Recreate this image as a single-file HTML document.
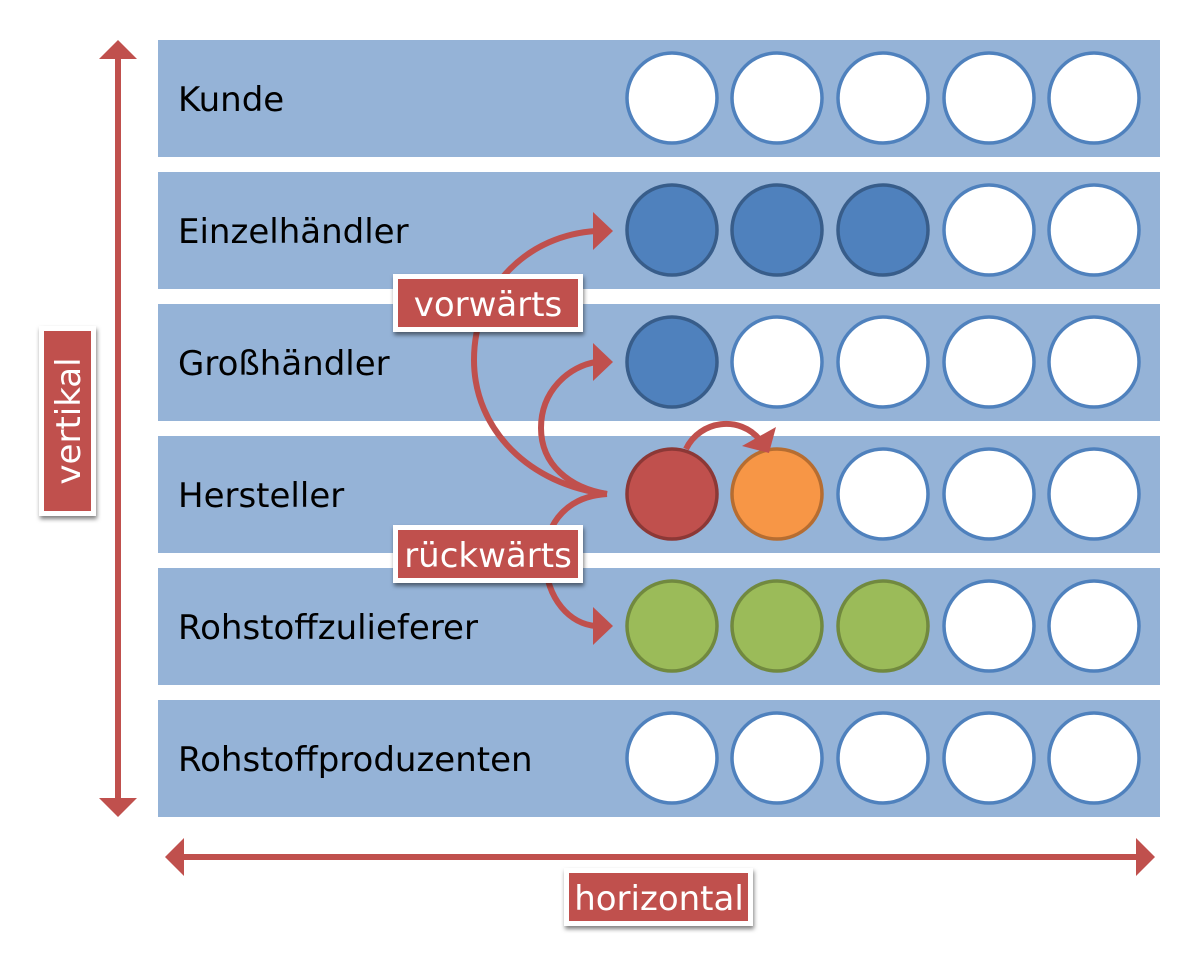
<!DOCTYPE html>
<html><head><meta charset="utf-8"><style>body{margin:0;background:#fff}svg{display:block}</style></head><body>
<svg width="1200" height="963" viewBox="0 0 1200 963" xmlns="http://www.w3.org/2000/svg" font-family="DejaVu Sans, Liberation Sans, sans-serif">
<defs><filter id="sh" x="-20%" y="-20%" width="140%" height="150%"><feDropShadow dx="1" dy="3" stdDeviation="2" flood-color="#000" flood-opacity="0.5"/></filter></defs>
<g fill="#95b3d7">
<rect x="158" y="40" width="1002" height="117"/>
<rect x="158" y="172" width="1002" height="117"/>
<rect x="158" y="304" width="1002" height="117"/>
<rect x="158" y="436" width="1002" height="117"/>
<rect x="158" y="568" width="1002" height="117"/>
<rect x="158" y="700" width="1002" height="117"/>
</g>
<g font-size="34" fill="#000">
<text x="178" y="111">Kunde</text>
<text x="178" y="243">Einzelhändler</text>
<text x="178" y="375">Großhändler</text>
<text x="178" y="507">Hersteller</text>
<text x="178" y="639">Rohstoffzulieferer</text>
<text x="178" y="771">Rohstoffproduzenten</text>
</g>
<g stroke-width="3.5">
<g fill="#fff" stroke="#4f81bd">
<circle cx="672" cy="98" r="45"/><circle cx="777" cy="98" r="45"/><circle cx="883" cy="98" r="45"/><circle cx="989" cy="98" r="45"/><circle cx="1094" cy="98" r="45"/>
<circle cx="989" cy="230" r="45"/><circle cx="1094" cy="230" r="45"/>
<circle cx="777" cy="362" r="45"/><circle cx="883" cy="362" r="45"/><circle cx="989" cy="362" r="45"/><circle cx="1094" cy="362" r="45"/>
<circle cx="883" cy="494" r="45"/><circle cx="989" cy="494" r="45"/><circle cx="1094" cy="494" r="45"/>
<circle cx="989" cy="626" r="45"/><circle cx="1094" cy="626" r="45"/>
<circle cx="672" cy="758" r="45"/><circle cx="777" cy="758" r="45"/><circle cx="883" cy="758" r="45"/><circle cx="989" cy="758" r="45"/><circle cx="1094" cy="758" r="45"/>
</g>
<g fill="#4f81bd" stroke="#385d8a">
<circle cx="672" cy="230" r="45"/><circle cx="777" cy="230" r="45"/><circle cx="883" cy="230" r="45"/><circle cx="672" cy="362" r="45"/>
</g>
<circle cx="672" cy="494" r="45" fill="#c0504d" stroke="#8c3836"/>
<circle cx="777" cy="494" r="45" fill="#f79646" stroke="#b66d31"/>
<g fill="#9bbb59" stroke="#71893f">
<circle cx="672" cy="626" r="45"/><circle cx="777" cy="626" r="45"/><circle cx="883" cy="626" r="45"/>
</g>
</g>
<g fill="none" stroke="#c0504d" stroke-width="6">
<path d="M607,494 C530,485 474,430 474,360 C474,285 530,235 596,231"/>
<path d="M607,494 C570,488 541,465 541,428 C541,390 570,366 596,362"/>
<path d="M607,494 C570,496 545,520 545,560 C547,600 570,624 596,626"/>
<path d="M686,449 C700,420 740,415 760,440"/>
<line x1="118" y1="56" x2="118" y2="802"/>
<line x1="181" y1="857" x2="1139" y2="857"/>
</g>
<g fill="#c0504d">
<polygon points="613,231 593,212 593,250"/>
<polygon points="613,362 593,343 593,381"/>
<polygon points="613,626 593,607 593,645"/>
<polygon points="776,427 742,446 769,453"/>
<polygon points="118,40 99,59 137,59"/>
<polygon points="118,817 99,798 137,798"/>
<polygon points="165,857 184,838 184,876"/>
<polygon points="1155,857 1136,838 1136,876"/>
</g>
<g filter="url(#sh)"><rect x="393" y="274" width="190" height="58" fill="#fff"/><rect x="393" y="525" width="190" height="58" fill="#fff"/><rect x="564" y="868" width="189" height="58" fill="#fff"/><rect x="39" y="326" width="57" height="190" fill="#fff"/></g>
<g fill="#c0504d">
<rect x="398" y="279" width="180" height="48"/>
<rect x="398" y="530" width="180" height="48"/>
<rect x="569" y="873" width="179" height="48"/>
<rect x="44" y="331" width="47" height="180"/>
</g>
<g fill="#fff" font-size="34" text-anchor="middle">
<text x="488" y="316">vorwärts</text>
<text x="488" y="567">rückwärts</text>
<text x="659" y="910">horizontal</text>
<text transform="translate(80,421) rotate(-90)">vertikal</text>
</g>
</svg>
</body></html>
